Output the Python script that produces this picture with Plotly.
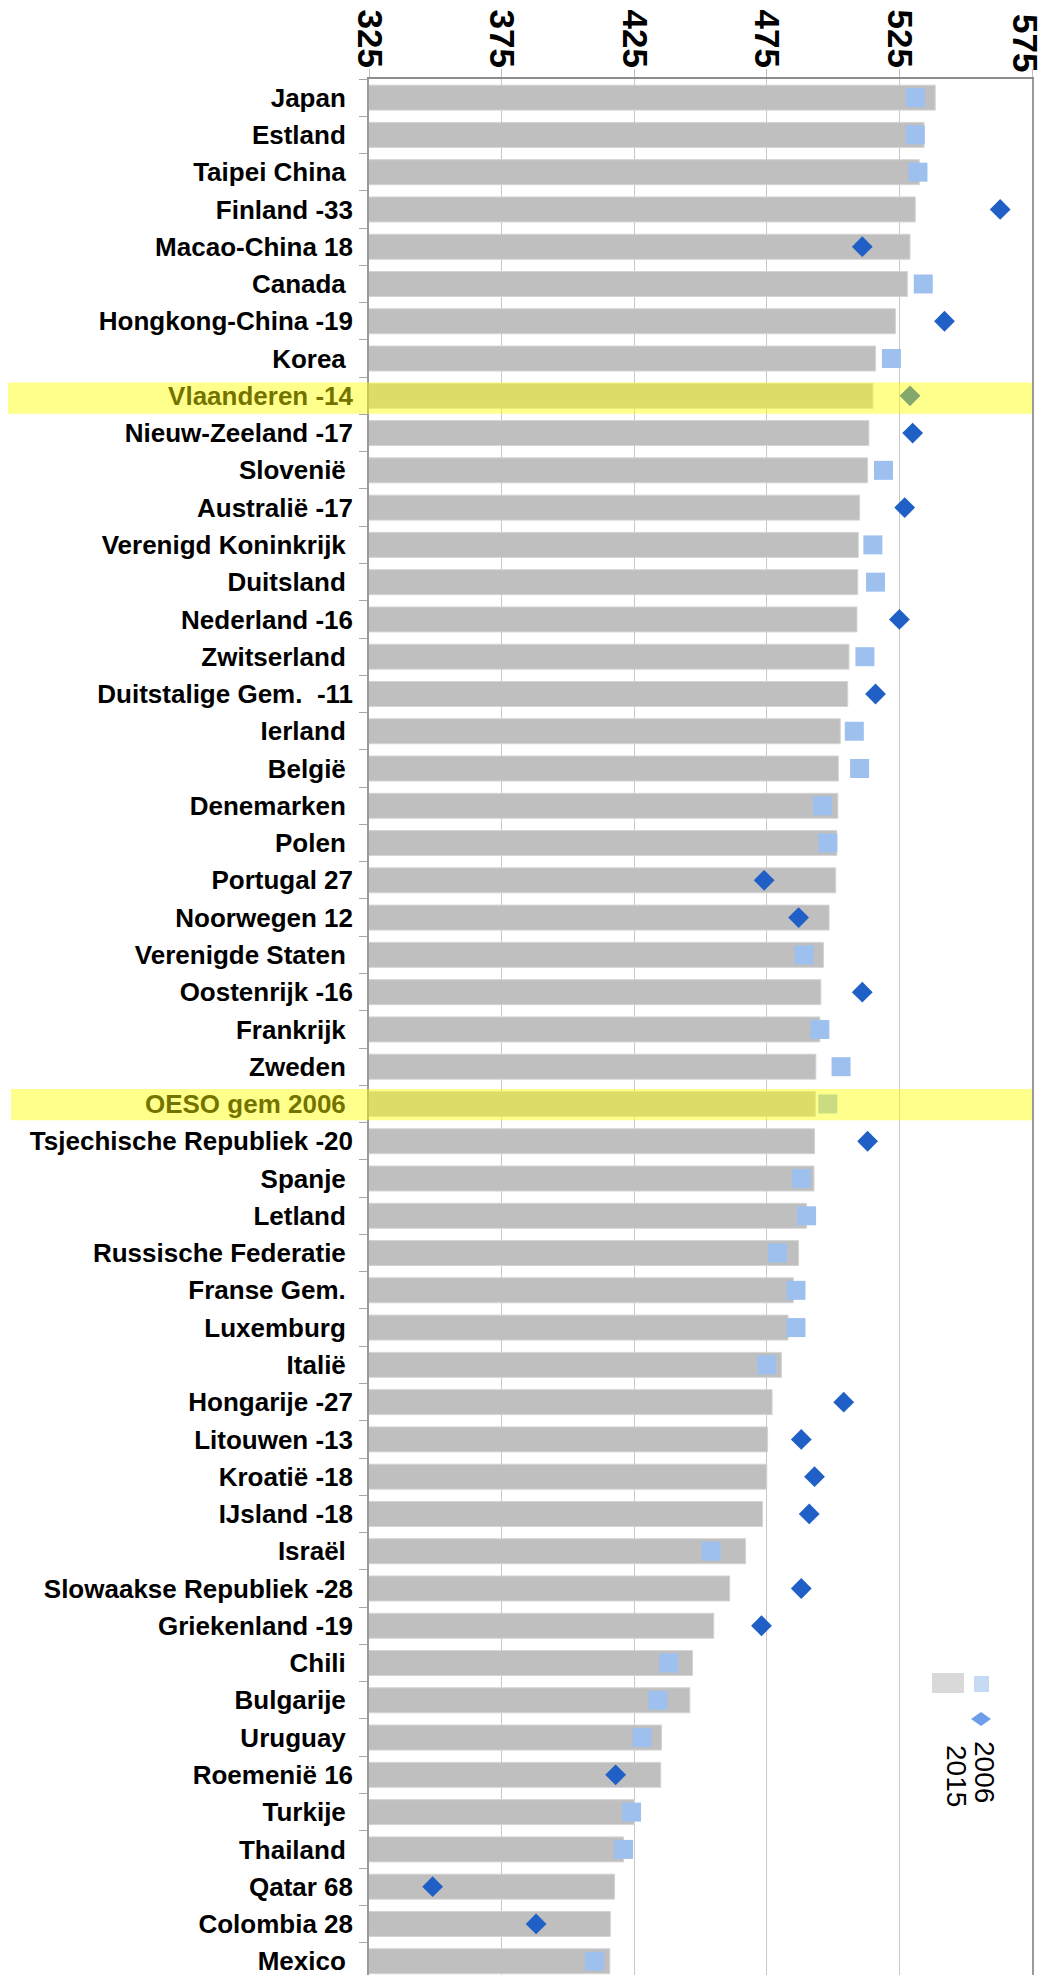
import plotly.graph_objs as go

# PISA wetenschappen: 2015 (balk) en 2006 (vierkant = niet significant, ruit = significant verschil)
labels = ["Japan", "Estland", "Taipei China", "Finland -33", "Macao-China 18", "Canada",
          "Hongkong-China -19", "Korea", "Vlaanderen -14", "Nieuw-Zeeland -17", "Slovenië",
          "Australië -17", "Verenigd Koninkrijk", "Duitsland", "Nederland -16", "Zwitserland",
          "Duitstalige Gem.\u00a0 -11", "Ierland", "België", "Denemarken", "Polen", "Portugal 27",
          "Noorwegen 12", "Verenigde Staten", "Oostenrijk -16", "Frankrijk", "Zweden",
          "OESO gem 2006", "Tsjechische Republiek -20", "Spanje", "Letland", "Russische Federatie",
          "Franse Gem.", "Luxemburg", "Italië", "Hongarije -27", "Litouwen -13", "Kroatië -18",
          "IJsland -18", "Israël", "Slowaakse Republiek -28", "Griekenland -19", "Chili",
          "Bulgarije", "Uruguay", "Roemenië 16", "Turkije", "Thailand", "Qatar 68",
          "Colombia 28", "Mexico"]
score_2015 = [538.5, 534.3, 532.5, 531, 529, 528, 523.5, 516, 515, 513.5, 513, 510, 509.5,
              509.3, 509, 506, 505.5, 502.7, 502, 501.8, 501.4, 501, 498.5, 496.4, 495.4,
              495, 493.5, 493.3, 493, 492.8, 490, 487, 485, 483, 480.5, 477, 475.3, 475,
              473.4, 467, 461, 455, 447, 446, 435.3, 435, 425, 421, 417.6, 416, 415.8]
score_2006 = [531, 531, 532, 563, 511, 534, 542, 522, 529, 530, 519, 527, 515, 516, 525, 512,
              516, 508, 510, 496, 498, 474, 487, 489, 511, 495, 503, 498, 513, 488, 490, 479,
              486, 486, 475, 504, 488, 493, 491, 454, 488, 473, 438, 434, 428, 418, 424, 421,
              349, 388, 410]
significant = [0, 0, 0, 1, 1, 0, 1, 0, 1, 1, 0, 1, 0, 0, 1, 0, 1, 0, 0, 0, 0, 1, 1, 0, 1,
               0, 0, 0, 1, 0, 0, 0, 0, 0, 0, 1, 1, 1, 1, 0, 1, 1, 0, 0, 0, 1, 0, 0, 1, 1, 0]
highlighted = ["Vlaanderen -14", "OESO gem 2006"]
tick_vals = [325, 375, 425, 475, 525, 575]
# the last label is pulled inside the page, as in the original, so it gets an annotation
tick_text = ["325", "375", "425", "475", "525", ""]
last_tick = "575"

FONT = "Liberation Sans, Arial, sans-serif"


def getBars(names):
    """Grey bars with the 2015 scores."""
    return go.Bar(y=names, x=score_2015, orientation="h", width=0.67,
                  marker=dict(color="#BFBFBF", line=dict(color="#D4D4D4", width=1)),
                  showlegend=False, hoverinfo="x+y")


def getMarkers(names):
    """Squares (no significant change) and diamonds (significant change) for 2006."""
    sq_y = [n for n, s in zip(names, significant) if not s]
    sq_x = [v for v, s in zip(score_2006, significant) if not s]
    dm_y = [n for n, s in zip(names, significant) if s]
    dm_x = [v for v, s in zip(score_2006, significant) if s]
    squares = go.Scatter(x=sq_x, y=sq_y, mode="markers", showlegend=False,
                         marker=dict(symbol="square", size=19, color="#9DC0EE",
                                     line=dict(width=0)))
    diamonds = go.Scatter(x=dm_x, y=dm_y, mode="markers", showlegend=False,
                          marker=dict(symbol="diamond", size=16, color="#1F5FC6",
                                      line=dict(width=0)))
    return [squares, diamonds]


# labels without a change number carry a trailing space in the original
names = [lab if s else lab + "\u00a0" for lab, s in zip(labels, significant)]

fig = go.Figure(data=[getBars(names)] + getMarkers(names))

shapes = []
for lab in highlighted:
    i = labels.index(lab)
    if lab.startswith("Vlaanderen"):
        x0, y0, y1 = -0.552, i - 0.36, i + 0.48
    else:
        x0, y0, y1 = -0.540, i - 0.40, i + 0.44
    shapes.append(dict(type="rect", xref="paper", yref="y", x0=x0, x1=1.0,
                       y0=y0, y1=y1, layer="above",
                       fillcolor="rgba(255,255,0,0.45)", line=dict(width=0)))

# hand-made rotated legend at the bottom right (positions in page pixels)
def px(x):
    return (x - 369) / 663.0


def py(y):
    return (1975 - y) / 1896.0


shapes.append(dict(type="rect", xref="paper", yref="paper", x0=px(932), x1=px(964),
                   y0=py(1693), y1=py(1673), fillcolor="#D9D9D9", line=dict(width=0)))
shapes.append(dict(type="rect", xref="paper", yref="paper", x0=px(974), x1=px(989),
                   y0=py(1692), y1=py(1676), fillcolor="#C6DAF4", line=dict(width=0)))
shapes.append(dict(type="path", xref="paper", yref="paper", fillcolor="#6D9EEB",
                   line=dict(width=0),
                   path="M%f,%f L%f,%f L%f,%f L%f,%f Z" % (
                       px(971), py(1719), px(981), py(1712), px(991), py(1719),
                       px(981), py(1726))))

annotations = [
    dict(text="2015", xref="paper", yref="paper", x=px(957), y=py(1776), textangle=90,
         xanchor="center", yanchor="middle", showarrow=False,
         font=dict(family=FONT, size=28, color="black")),
    dict(text="2006", xref="paper", yref="paper", x=px(985), y=py(1772), textangle=90,
         xanchor="center", yanchor="middle", showarrow=False,
         font=dict(family=FONT, size=28, color="black")),
    dict(text=last_tick, xref="paper", yref="paper", x=px(1025), y=py(43), textangle=90,
         xanchor="center", yanchor="middle", showarrow=False,
         font=dict(family=FONT, size=35, color="black", weight="bold")),
]

# the page body adds an 8 px offset, so the figure is 8 px smaller than the window
fig.update_layout(
    width=1042, height=1967,
    margin=dict(l=361, r=18, t=71, b=0, pad=0),
    plot_bgcolor="white", paper_bgcolor="white",
    bargap=0.33,
    shapes=shapes,
    annotations=annotations,
    xaxis=dict(side="top", range=[325, 575], tickmode="array", tickvals=tick_vals,
               ticktext=tick_text, tickangle=90,
               showgrid=True, gridcolor="#C8C8C8", gridwidth=1,
               showline=True, linecolor="#8C8C8C", linewidth=1.5,
               ticks="outside", ticklen=8, tickcolor="#BFBFBF", automargin=False,
               ticklabeloverflow="allow", ticklabelstandoff=-11,
               tickfont=dict(family=FONT, size=35, color="black", weight="bold"),
               zeroline=False, fixedrange=True),
    yaxis=dict(type="category", categoryorder="array", categoryarray=names,
               range=[50.37, -0.5], tickson="boundaries", ticks="outside", ticklen=8,
               tickcolor="#A6A6A6", showline=True, mirror=True, linecolor="#9A9A9A",
               linewidth=1.5, showgrid=False, automargin=False, ticklabelstandoff=9,
               tickfont=dict(family=FONT, size=26, color="black", weight="bold")),
)

fig.write_html("out.html")
